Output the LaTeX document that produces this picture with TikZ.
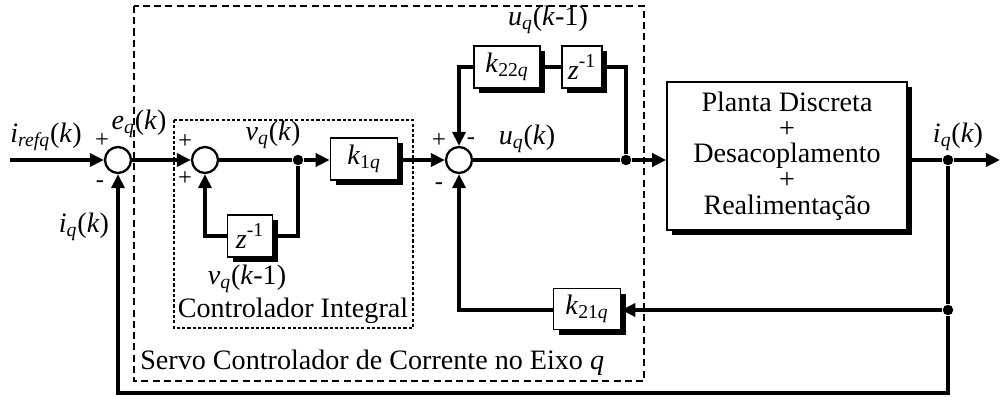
\documentclass[tikz,border=0pt]{standalone}
\usepackage{fontspec}
\setmainfont{Liberation Serif}
\usetikzlibrary{arrows.meta,shadows}

% italic variable with an (optionally mixed) subscript
\newcommand{\var}[2]{\textit{#1}\textsubscript{#2}}

\begin{document}
\begin{tikzpicture}[x=0.02cm,y=-0.02cm,
  font=\fontsize{16}{17}\selectfont,
  wire/.style={line width=2pt},
  arr/.style={wire,-{Triangle[length=8pt,width=7.4pt]}},
  block/.style={draw,line width=0.9pt,fill=white,inner sep=0pt,
    drop shadow={shadow xshift=3pt,shadow yshift=-3pt,fill=black,opacity=1}},
  sumnode/.style={circle,draw,line width=1.3pt,fill=white,minimum size=0.52cm,inner sep=0pt},
  junction/.style={circle,fill=black,minimum size=0.21cm,inner sep=0pt},
  sign/.style={font=\fontsize{14}{14}\selectfont,inner sep=0pt},
  lbl/.style={inner sep=0pt}]

\useasboundingbox (0,0) rectangle (1000,396);

% controller frames
\draw[line width=1.3pt,dash pattern=on 4pt off 2.4pt] (134,6) rectangle (644,381);
\draw[line width=0.8pt,dash pattern=on 1.8pt off 1.2pt] (174,120) rectangle (413,328);

% summing junctions
\node[sumnode] (s1) at (118,160) {};
\node[sumnode] (s2) at (205,160) {};
\node[sumnode] (s3) at (459,160) {};

% blocks
\node[block,minimum width=1.34cm,minimum height=0.84cm] (k1) at (364,159) {\var{k}{1\textit{q}}};
\node[block,minimum width=0.9cm,minimum height=0.84cm] (z1) at (250,236) {\textit{z}\textsuperscript{-1}};
\node[block,minimum width=1.32cm,minimum height=0.84cm] (k22) at (507,67) {\var{k}{22\textit{q}}};
\node[block,minimum width=0.8cm,minimum height=0.84cm] (z2) at (582,67) {\textit{z}\textsuperscript{-1}};
\node[block,minimum width=4.8cm,minimum height=2.96cm,align=center,
  font=\fontsize{16}{14.6}\selectfont] (plant) at (787,156)
  {Planta Discreta\\+\\Desacoplamento\\+\\Realimentação};
\node[block,minimum width=1.34cm,minimum height=0.82cm] (k21) at (587,309) {\var{k}{21\textit{q}}};

% branch points
\node[junction] (j1) at (298,160) {};
\node[junction] (j2) at (626,160) {};
\node[junction] (j3) at (948,160) {};
\node[junction] (j4) at (948,310) {};
\coordinate (in) at (10,160);
\coordinate (out) at (1000,160);
\coordinate (fbr) at (948,393);
\coordinate (fbl) at (118,393);

% forward path
\draw[arr] (in) -- (s1.west);
\draw[arr] (s1.east) -- (s2.west);
\draw[wire] (s2.east) -- (j1);
\draw[arr] (j1) -- (k1.west |- j1);
\draw[arr] (k1.east |- s3) -- (s3.west);
\draw[wire] (s3.east) -- (j2);
\draw[arr] (j2) -- (plant.west |- j2);
\draw[wire] (plant.east |- j3) -- (j3);
\draw[arr] (j3) -- (out);

% integrator loop
\draw[wire] (j1) |- (z1.east);
\draw[arr] (z1.west) -| (s2.south);

% delayed output loop
\draw[wire] (j2) |- (z2.east);
\draw[wire] (z2.west) -- (k22.east);
\draw[arr] (k22.west) -| (s3.north);

% state feedback
\draw[wire] (j3) -- (j4);
\draw[arr] (j4) -- (k21.east |- j4);
\draw[arr] (k21.west |- j4) -| (s3.south);

% outer current loop
\draw[arr] (j4) -- (fbr) -- (fbl) -- (s1.south);

% signal labels
\node[lbl] (l1) at (46,137) {\textit{i}\textsubscript{\textit{refq}}(\textit{k})};
\node[lbl] (l2) at (139,124) {\var{e}{\textit{q}}(\textit{k})};
\node[lbl] (l3) at (84,227) {\var{i}{\textit{q}}(\textit{k})};
\node[lbl] (l4) at (273,135) {\var{v}{\textit{q}}(\textit{k})};
\node[lbl] (l5) at (247,279) {\var{v}{\textit{q}}(\textit{k}-1)};
\node[lbl] (l6) at (293,311) {Controlador Integral};
\node[lbl,anchor=west] (l7) at (140,363) {Servo Controlador de Corrente no Eixo \textit{q}};
\node[lbl] (l8) at (527,139) {\var{u}{\textit{q}}(\textit{k})};
\node[lbl] (l9) at (548,20) {\var{u}{\textit{q}}(\textit{k}-1)};
\node[lbl] (l10) at (958,137) {\var{i}{\textit{q}}(\textit{k})};

% signs at the summing junctions
\node[sign] (p1) at (102,141) {+};
\node[sign] (m1) at (100,184) {-};
\node[sign] (p2) at (185,142) {+};
\node[sign] (p3) at (185,179) {+};
\node[sign] (p4) at (439,141) {+};
\node[sign] (m2) at (471,141) {-};
\node[sign] (m3) at (439,186) {-};

\end{tikzpicture}
\end{document}
